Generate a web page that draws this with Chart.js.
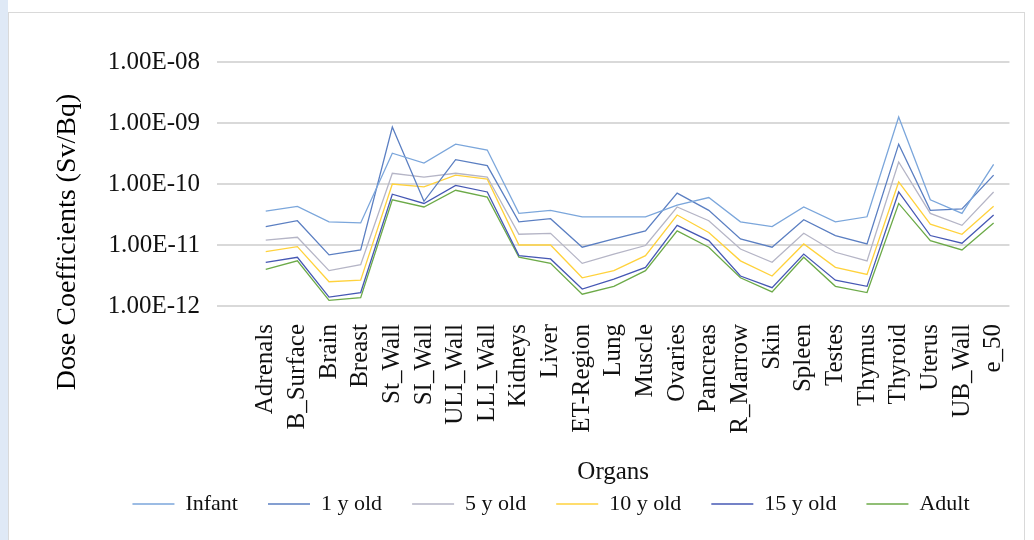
<!DOCTYPE html>
<html>
<head>
<meta charset="utf-8">
<script src="https://cdn.jsdelivr.net/npm/chart.js@4.4.1/dist/chart.umd.min.js"></script>
<style>
  html, body { margin: 0; padding: 0; background: #ffffff; }
  body { width: 1034px; height: 540px; position: relative; overflow: hidden; font-family: 'Liberation Serif', serif; }
  #strip { position: absolute; left: 0; top: 0; width: 8px; height: 540px; background: #dfe9f6; }
  #frame { position: absolute; left: 8px; top: 12px; width: 1017px; height: 540px; border: 1px solid #d9d9d9; box-sizing: border-box; }
  #wrap { position: absolute; left: 0; top: 0; width: 1034px; height: 540px; }
</style>
</head>
<body>
<div id="strip"></div>
<div id="frame"></div>
<div id="wrap"><canvas id="c" width="1034" height="540"></canvas></div>
<script>
const categories = ['Adrenals','B_Surface','Brain','Breast','St_Wall','SI_Wall','ULI_Wall','LLI_Wall','Kidneys','Liver','ET-Region','Lung','Muscle','Ovaries','Pancreas','R_Marrow','Skin','Spleen','Testes','Thymus','Thyroid','Uterus','UB_Wall','e_50'];

const seriesNames = ['Infant','1 y old','5 y old','10 y old','15 y old','Adult'];

const infant   = [3.6e-11,4.3e-11,2.4e-11,2.3e-11,3.2e-10,2.2e-10,4.5e-10,3.6e-10,3.3e-11,3.7e-11,2.9e-11,2.9e-11,2.9e-11,4.5e-11,6.0e-11,2.4e-11,2.0e-11,4.2e-11,2.4e-11,2.9e-11,1.25e-9,5.5e-11,3.3e-11,2.1e-10];
const oneYear  = [2.0e-11,2.5e-11,6.9e-12,8.3e-12,8.6e-10,5.2e-11,2.5e-10,2.0e-10,2.4e-11,2.7e-11,9.2e-12,1.26e-11,1.7e-11,7.1e-11,3.7e-11,1.26e-11,9.2e-12,2.6e-11,1.43e-11,1.04e-11,4.5e-10,3.7e-11,3.9e-11,1.4e-10];
const fiveYear = [1.2e-11,1.34e-11,3.8e-12,4.75e-12,1.5e-10,1.3e-10,1.5e-10,1.3e-10,1.5e-11,1.55e-11,5.0e-12,7.1e-12,9.8e-12,4.2e-11,2.5e-11,8.6e-12,5.2e-12,1.56e-11,7.6e-12,5.5e-12,2.3e-10,3.3e-11,2.1e-11,7.4e-11];
const tenYear  = [7.8e-12,9.4e-12,2.5e-12,2.65e-12,1.0e-10,9.0e-11,1.4e-10,1.2e-10,1.0e-11,1.0e-11,2.9e-12,3.8e-12,6.7e-12,3.1e-11,1.6e-11,5.5e-12,3.1e-12,1.04e-11,4.3e-12,3.3e-12,1.08e-10,2.2e-11,1.5e-11,4.3e-11];
const fifteenYear = [5.2e-12,6.3e-12,1.4e-12,1.66e-12,6.8e-11,4.8e-11,9.5e-11,7.4e-11,6.7e-12,5.9e-12,1.9e-12,2.75e-12,4.3e-12,2.1e-11,1.18e-11,3.1e-12,2.0e-12,7.1e-12,2.65e-12,2.1e-12,7.4e-11,1.43e-11,1.07e-11,3.1e-11];
const adult    = [4.0e-12,5.5e-12,1.24e-12,1.37e-12,5.5e-11,4.2e-11,7.9e-11,6.1e-11,6.3e-12,5.0e-12,1.56e-12,2.1e-12,3.8e-12,1.7e-11,9.2e-12,2.9e-12,1.7e-12,6.3e-12,2.1e-12,1.66e-12,4.8e-11,1.18e-11,8.3e-12,2.3e-11];

const yTicks = [1e-12, 1e-11, 1e-10, 1e-9, 1e-8];
const yTickLabels = ['1.00E-12','1.00E-11','1.00E-10','1.00E-09','1.00E-08'];

const seriesValues = [infant, oneYear, fiveYear, tenYear, fifteenYear, adult];
const seriesColors = ['#7ba6db','#5b7fc2','#b5b5c6','#ffd23c','#4658b4','#6caa48'];

const FONT = "'Liberation Serif', 'Times New Roman', serif";

const datasets = seriesNames.map((name, s) => ({
  label: name,
  data: seriesValues[s].map((v, i) => ({ x: i, y: v })),
  borderColor: seriesColors[s],
  backgroundColor: seriesColors[s],
  borderWidth: 1.3,
  pointRadius: 0,
  pointHoverRadius: 0,
  tension: 0,
  fill: false
}));

const yTitlePlugin = {
  id: 'yTitle',
  afterDraw(chart) {
    const ctx = chart.ctx;
    ctx.save();
    ctx.translate(68, 242);
    ctx.rotate(-Math.PI / 2);
    ctx.font = "28px " + FONT;
    ctx.fillStyle = '#000000';
    ctx.textAlign = 'center';
    ctx.textBaseline = 'middle';
    ctx.fillText('Dose Coefficients (Sv/Bq)', 0, 0);
    ctx.restore();
  }
};

new Chart(document.getElementById('c'), {
  type: 'line',
  data: { datasets },
  plugins: [yTitlePlugin],
  options: {
    responsive: false,
    animation: false,
    events: [],
    layout: { padding: { left: 87, right: 19, top: 62, bottom: 15 } },
    plugins: {
      tooltip: { enabled: false },
      legend: {
        position: 'bottom',
        align: 'center',
        labels: {
          usePointStyle: true,
          pointStyle: 'line',
          pointStyleWidth: 42,
          boxHeight: 22,
          padding: 30,
          color: '#111111',
          font: { family: FONT, size: 22 }
        }
      }
    },
    scales: {
      x: {
        type: 'linear',
        min: -1.54,
        max: 23.5,
        afterFit(scale) { scale.height = 157; },
        afterBuildTicks(axis) { axis.ticks = categories.map((c, i) => ({ value: i })); },
        grid: { display: false },
        border: { display: false },
        ticks: {
          autoSkip: false,
          minRotation: 90,
          maxRotation: 90,
          padding: 10,
          color: '#111111',
          font: { family: FONT, size: 25 },
          callback: (v) => categories[Math.round(v)]
        },
        title: {
          display: true,
          text: 'Organs',
          color: '#111111',
          font: { family: FONT, size: 25, lineHeight: 1.2 },
          padding: { top: 0, bottom: -24 }
        }
      },
      y: {
        type: 'logarithmic',
        min: 1e-12,
        max: 1e-8,
        afterFit(scale) { scale.width = 130; },
        afterBuildTicks(axis) { axis.ticks = yTicks.map(v => ({ value: v })); },
        grid: { color: '#d9d9d9', lineWidth: 2, drawTicks: false },
        border: { display: false },
        ticks: {
          padding: 17,
          color: '#111111',
          font: { family: FONT, size: 25 },
          callback: (v) => yTickLabels[Math.round(Math.log10(v)) + 12]
        }
      }
    }
  }
});
</script>
</body>
</html>
